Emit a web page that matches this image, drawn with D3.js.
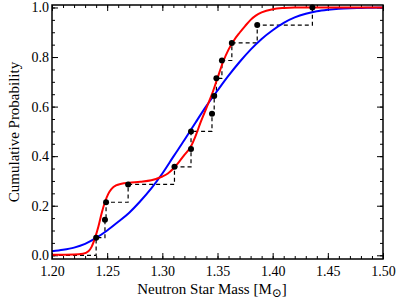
<!DOCTYPE html>
<head>
  <meta charset="utf-8">
  <script src="https://cdnjs.cloudflare.com/ajax/libs/d3/7.8.5/d3.min.js"></script>
</head>

<style>
  body { margin: 0; background: #fff; }
  text { font-family: "Liberation Serif", "DejaVu Serif", serif; fill: #000; }
  .axis path { display: none; }
  .axis line { stroke: #000; stroke-width: 1; }
  .axis text { font-size: 14px; font-family: "Liberation Serif", "DejaVu Serif", serif; }
</style>

<body>
  <svg width="399" height="299" viewBox="0 0 399 299" class="cdf"></svg>

  <script>

  // measured masses and their empirical cumulative probability
  let obsMass = [1.240, 1.248, 1.249, 1.269, 1.311, 1.326, 1.326, 1.345, 1.347, 1.349, 1.354, 1.363, 1.386, 1.436];
  let obsProb = [0.071, 0.143, 0.214, 0.286, 0.357, 0.429, 0.500, 0.571, 0.643, 0.714, 0.786, 0.857, 0.929, 1.000];

  // red curve
  let redMass = [1.200, 1.220, 1.228, 1.233, 1.236, 1.239, 1.242, 1.245, 1.248, 1.251, 1.254, 1.258, 1.263, 1.270, 1.280,
                 1.290, 1.300, 1.305, 1.310, 1.315, 1.320, 1.326, 1.330, 1.335, 1.340, 1.345, 1.350, 1.355, 1.360,
                 1.365, 1.370, 1.375, 1.380, 1.385, 1.390, 1.400, 1.410, 1.420, 1.500];
  let redProb = [0.002, 0.003, 0.006, 0.016, 0.035, 0.070, 0.115, 0.170, 0.215, 0.248, 0.268, 0.282, 0.289, 0.293, 0.297,
                 0.303, 0.318, 0.330, 0.350, 0.376, 0.405, 0.440, 0.480, 0.540, 0.595, 0.650, 0.715, 0.780, 0.830,
                 0.868, 0.898, 0.925, 0.950, 0.968, 0.980, 0.993, 0.998, 1.000, 1.000];

  // blue curve
  let blueMass = [1.20, 1.21, 1.22, 1.23, 1.24, 1.25, 1.26, 1.27, 1.28, 1.29, 1.30, 1.31, 1.32, 1.33, 1.34, 1.35,
                  1.36, 1.37, 1.38, 1.39, 1.40, 1.41, 1.42, 1.43, 1.44, 1.45, 1.46, 1.47, 1.48, 1.49, 1.50];
  let blueProb = [0.016, 0.022, 0.031, 0.046, 0.070, 0.100, 0.135, 0.172, 0.218, 0.270, 0.330, 0.398, 0.465, 0.535, 0.603, 0.665,
                  0.725, 0.780, 0.830, 0.873, 0.908, 0.938, 0.960, 0.975, 0.985, 0.991, 0.995, 0.997, 0.998, 0.999, 1.000];

  let xTicks = [1.20, 1.25, 1.30, 1.35, 1.40, 1.45, 1.50];
  let yTicks = [0.0, 0.2, 0.4, 0.6, 0.8, 1.0];

  let svg = d3.select(".cdf");

  let plotLeft = 52, plotRight = 383, plotTop = 5, plotBottom = 259;

  let x = d3.scaleLinear().domain([1.2, 1.5]).range([plotLeft, plotRight]);
  let y = d3.scaleLinear().domain([-0.015, 1.01]).range([plotBottom, plotTop]);

  let xMinor = d3.range(120, 151).map(function(d) { return d / 100; });
  let yMinor = d3.range(0, 21).map(function(d) { return d / 20; });

  // minor ticks
  svg.append("g").attr("class", "axis").attr("transform", "translate(0," + plotBottom + ")")
    .call(d3.axisBottom(x).tickValues(xMinor).tickSize(-3).tickFormat(""));
  svg.append("g").attr("class", "axis").attr("transform", "translate(0," + plotTop + ")")
    .call(d3.axisTop(x).tickValues(xMinor).tickSize(-3).tickFormat(""));
  svg.append("g").attr("class", "axis").attr("transform", "translate(" + plotLeft + ",0)")
    .call(d3.axisLeft(y).tickValues(yMinor).tickSize(-3).tickFormat(""));
  svg.append("g").attr("class", "axis").attr("transform", "translate(" + plotRight + ",0)")
    .call(d3.axisRight(y).tickValues(yMinor).tickSize(-3).tickFormat(""));

  // major ticks
  svg.append("g").attr("class", "axis").attr("transform", "translate(0," + plotBottom + ")")
    .call(d3.axisBottom(x).tickValues(xTicks).tickSize(-6).tickPadding(7).tickFormat(d3.format(".2f")));
  svg.append("g").attr("class", "axis").attr("transform", "translate(0," + plotTop + ")")
    .call(d3.axisTop(x).tickValues(xTicks).tickSize(-6).tickFormat(""));
  svg.append("g").attr("class", "axis").attr("transform", "translate(" + plotLeft + ",0)")
    .call(d3.axisLeft(y).tickValues(yTicks).tickSize(-6).tickPadding(3).tickFormat(d3.format(".1f")));
  svg.append("g").attr("class", "axis").attr("transform", "translate(" + plotRight + ",0)")
    .call(d3.axisRight(y).tickValues(yTicks).tickSize(-6).tickFormat(""));

  // empirical step function
  let steps = [[1.2, 0]].concat(obsMass.map(function(d, i) { return [d, obsProb[i]]; }), [[1.5, 1]]);
  let stepLine = d3.line()
      .x(function(d) { return x(d[0]); })
      .y(function(d) { return y(d[1]); })
      .curve(d3.curveStepAfter);

  svg.append("path")
      .attr("d", stepLine(steps))
      .attr("fill", "none")
      .attr("stroke", "#000")
      .attr("stroke-width", 1.2)
      .attr("stroke-dasharray", "4,3");

  let smooth = d3.line()
      .x(function(d) { return x(d[0]); })
      .y(function(d) { return y(d[1]); })
      .curve(d3.curveMonotoneX);

  svg.append("path")
      .attr("d", smooth(blueMass.map(function(d, i) { return [d, blueProb[i]]; })))
      .attr("fill", "none")
      .attr("stroke", "#0000ff")
      .attr("stroke-width", 2);

  svg.append("path")
      .attr("d", smooth(redMass.map(function(d, i) { return [d, redProb[i]]; })))
      .attr("fill", "none")
      .attr("stroke", "#ff0000")
      .attr("stroke-width", 2);

  svg.selectAll(".dot")
    .data(obsMass)
    .enter().append("circle")
      .attr("class", "dot")
      .attr("cx", function(d) { return x(d); })
      .attr("cy", function(d, i) { return y(obsProb[i]); })
      .attr("r", 3)
      .attr("fill", "#000");

  // frame
  svg.append("rect")
      .attr("x", plotLeft).attr("y", plotTop)
      .attr("width", plotRight - plotLeft).attr("height", plotBottom - plotTop)
      .attr("fill", "none")
      .attr("stroke", "#000")
      .attr("stroke-width", 1.5);

  // axis titles
  let xt = svg.append("text")
      .attr("x", 212)
      .attr("y", 294)
      .attr("text-anchor", "middle")
      .style("font-size", "15px");
  xt.append("tspan").text("Neutron Star Mass [M");
  xt.append("tspan").attr("dy", 3).style("font-size", "12px").text("\u2299");
  xt.append("tspan").attr("dy", -3).text("]");

  svg.append("text")
      .attr("transform", "translate(19," + ((plotTop + plotBottom) / 2) + ") rotate(-90)")
      .attr("text-anchor", "middle")
      .style("font-size", "15px")
      .text("Cumulative Probability");

  </script>
</body>
</html>
